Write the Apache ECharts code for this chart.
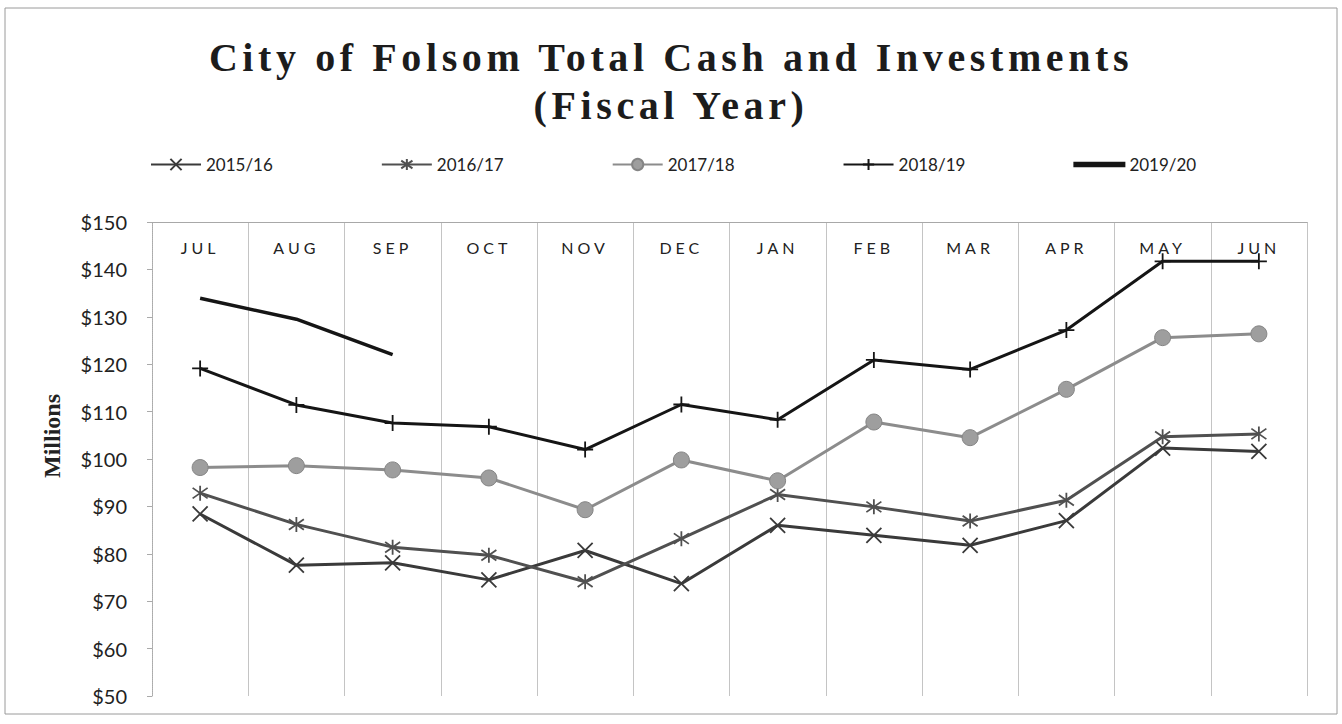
<!DOCTYPE html>
<html>
<head>
<meta charset="utf-8">
<style>
  html, body { margin: 0; padding: 0; background: #fff; }
  #main { width: 1342px; height: 724px; }
</style>
<script src="https://cdn.jsdelivr.net/npm/echarts@6/dist/echarts.min.js"></script>
</head>
<body>
<div id="main"></div>
<script>
// months of the fiscal year
var months = ['JUL', 'AUG', 'SEP', 'OCT', 'NOV', 'DEC', 'JAN', 'FEB', 'MAR', 'APR', 'MAY', 'JUN'];

// totals in millions
var fy1516 = [88.4, 77.6, 78.1, 74.5, 80.7, 73.7, 86.0, 83.9, 81.8, 87.0, 102.3, 101.6];
var fy1617 = [92.8, 86.2, 81.4, 79.7, 74.1, 83.2, 92.5, 89.9, 86.9, 91.3, 104.7, 105.3];
var fy1718 = [98.2, 98.6, 97.7, 96.0, 89.3, 99.8, 95.4, 107.8, 104.5, 114.7, 125.6, 126.4];
var fy1819 = [119.1, 111.4, 107.6, 106.8, 102.0, 111.5, 108.3, 120.9, 118.9, 127.2, 141.7, 141.7];
var fy1920 = [133.9, 129.5, 122.0];

var yTicks = { min: 50, max: 150, step: 10 };
var titleLines = ['City of Folsom Total Cash and Investments', '(Fiscal Year)'];

// marker shapes
var xMark = 'path://M0,0 L10,10 M10,0 L0,10';
var starMark = 'path://M5,0 L5,10 M0,1.5 L10,8.5 M10,1.5 L0,8.5';
var plusMark = 'path://M5,0 L5,10 M1,5 L9,5';

function lineSeries(name, data, color, symbol, size, width) {
  return {
    name: name,
    type: 'line',
    data: data,
    symbol: symbol,
    symbolSize: size,
    lineStyle: { color: color, width: width },
    itemStyle: { color: color, borderColor: color, borderWidth: 1.8 },
    emphasis: { disabled: true }
  };
}

var myChart = echarts.init(document.getElementById('main'), null, { renderer: 'svg' });

var circleSeries = lineSeries('2017/18', fy1718, '#8c8c8c', 'circle', 16, 3);
circleSeries.itemStyle = { color: '#9e9e9e', borderColor: '#858585', borderWidth: 1 };

myChart.setOption({
  animation: false,
  backgroundColor: '#fff',
  title: {
    text: titleLines.join('\n'),
    left: 'center',
    top: 28,
    textStyle: {
      fontFamily: 'Liberation Serif',
      fontWeight: 'bold',
      fontSize: 40,
      lineHeight: 48,
      color: '#1c1c1c'
    }
  },
  legend: {
    top: 151,
    left: 145,
    itemGap: 108,
    itemWidth: 50,
    itemHeight: 14,
    textStyle: { fontFamily: 'Lato', fontSize: 17, color: '#222' },
    data: ['2015/16', '2016/17', '2017/18', '2018/19',
      { name: '2019/20', icon: 'path://M0,0 L50,0 L50,3.5 L0,3.5 Z' }]
  },
  grid: { left: 152, right: 35, top: 222, bottom: 28 },
  xAxis: {
    type: 'category',
    position: 'top',
    data: months,
    boundaryGap: true,
    axisLine: { show: true, lineStyle: { color: '#a8a8a8', width: 1 } },
    axisTick: { show: false },
    axisLabel: {
      inside: true,
      margin: 17,
      interval: 0,
      fontFamily: 'Lato',
      fontSize: 16,
      color: '#222'
    },
    splitLine: { show: true, interval: 0, lineStyle: { color: '#c4c4c4', width: 1 } }
  },
  yAxis: {
    type: 'value',
    min: yTicks.min,
    max: yTicks.max,
    interval: yTicks.step,
    axisLine: { show: true, lineStyle: { color: '#aaa', type: 'dotted' } },
    axisTick: { show: true, length: 5, lineStyle: { color: '#aaa' } },
    axisLabel: {
      margin: 25,
      fontFamily: 'Lato',
      fontSize: 20,
      color: '#222',
      formatter: '${value}'
    },
    splitLine: { show: false }
  },
  graphic: [{
    type: 'rect',
    shape: { x: 5, y: 8, width: 1332, height: 706 },
    style: { fill: 'none', stroke: '#9a9a9a', lineWidth: 1 },
    silent: true
  }, {
    type: 'text',
    x: 52,
    y: 436,
    rotation: Math.PI / 2,
    silent: true,
    style: {
      text: 'Millions',
      align: 'center',
      verticalAlign: 'middle',
      font: 'bold 24px "Liberation Serif"',
      fill: '#222'
    }
  }],
  series: [
    lineSeries('2015/16', fy1516, '#3a3a3a', xMark, 15, 3),
    lineSeries('2016/17', fy1617, '#505050', starMark, 15, 3),
    circleSeries,
    lineSeries('2018/19', fy1819, '#151515', plusMark, 16, 3),
    lineSeries('2019/20', fy1920, '#151515', 'none', 0, 3.5)
  ]
});

// the original title and month labels are letter-spaced
document.querySelectorAll('#main text').forEach(function (t) {
  var s = t.textContent;
  if (titleLines.indexOf(s) >= 0) t.setAttribute('letter-spacing', '4.6');
  else if (months.indexOf(s) >= 0) t.setAttribute('letter-spacing', '4');
});
</script>
</body>
</html>
